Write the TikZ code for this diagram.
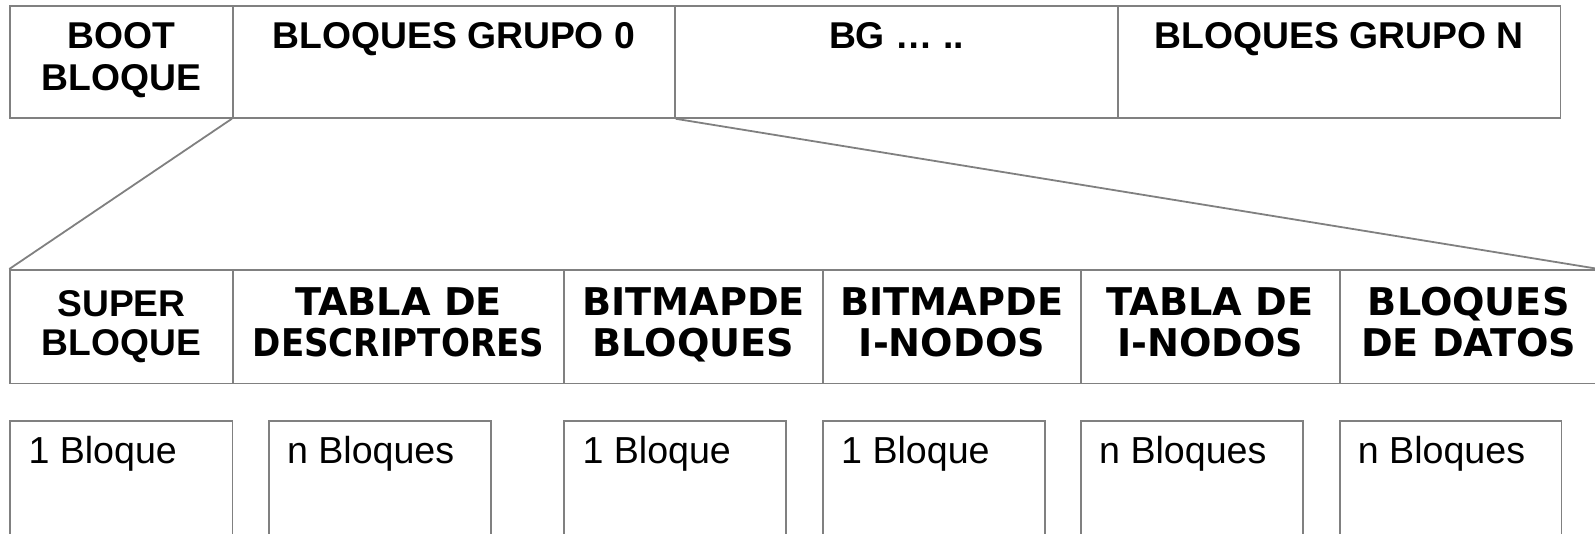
\documentclass[tikz,border=0pt]{standalone}
\usepackage{fontspec}
\setmainfont{Liberation Sans}
\newfontfamily\dejavu{DejaVu Sans}
\usetikzlibrary{calc}
\definecolor{linegray}{RGB}{128,128,128}
\tikzset{
  cell/.style={draw=linegray, line width=1.8pt, rectangle, inner sep=0pt, anchor=north west},
  head/.style={anchor=base, align=center, inner sep=0pt,
    font=\bfseries\fontsize{37.3pt}{42.4pt}\selectfont},
  part/.style={anchor=base, align=center, inner sep=0pt,
    font=\dejavu\bfseries\fontsize{38.2pt}{41.5pt}\selectfont},
  count/.style={anchor=base west, inner sep=0pt,
    font=\fontsize{37.6pt}{42pt}\selectfont},
  link/.style={draw=linegray, line width=1.8pt},
}
\begin{document}
\begin{tikzpicture}[x=1pt, y=-1pt]
\useasboundingbox (0,0) rectangle (1595,533);

% disk layout: boot block and block groups
\node[cell, minimum width=222.5pt, minimum height=112pt] (t1) at (9.3,5) {};
\node[cell, minimum width=442.2pt, minimum height=112pt] (t2) at (231.8,5) {};
\node[cell, minimum width=443pt,   minimum height=112pt] (t3) at (674,5) {};
\node[cell, minimum width=442.5pt, minimum height=112pt] (t4) at (1117,5) {};

% a two-line node sits on the baseline of its last line
\node[head] (t1txt) at ($(t1.north)+(0,85.7)$) {BOOT\\BLOQUE};
\node[head] (t2txt) at ($(t2.north)+(0,43.3)$) {BLOQUES GRUPO 0};
\node[head] (t3txt) at ($(t3.north)+(0,43.3)$) {BG … ..};
\node[head] (t4txt) at ($(t4.north)+(0,43.3)$) {BLOQUES GRUPO N};

% contents of one block group
\node[cell, minimum width=222.5pt, minimum height=113.5pt] (m1) at (9.3,269) {};
\node[cell, minimum width=331.5pt, minimum height=113.5pt] (m2) at (231.8,269) {};
\node[cell, minimum width=258.7pt, minimum height=113.5pt] (m3) at (563.3,269) {};
\node[cell, minimum width=258pt,   minimum height=113.5pt] (m4) at (822,269) {};
\node[cell, minimum width=258.7pt, minimum height=113.5pt] (m5) at (1080,269) {};
\node[cell, minimum width=258.3pt, minimum height=113.5pt] (m6) at (1338.7,269) {};

\node[head, font=\bfseries\fontsize{37.2pt}{39pt}\selectfont] (m1txt) at ($(m1.north)+(0,86)$) {SUPER\\BLOQUE};
\node[part] (m2txt) at ($(m2.north)+(0,87.5)$) {TABLA DE\\\scalebox{0.892}[1]{DESCRIPTORES}};
\node[part] (m3txt) at ($(m3.north)+(0,87.5)$) {BITMAPDE\\BLOQUES};
\node[part] (m4txt) at ($(m4.north)+(0,87.5)$) {BITMAPDE\\I-NODOS};
\node[part] (m5txt) at ($(m5.north)+(0,87.5)$) {TABLA DE\\I-NODOS};
\node[part] (m6txt) at ($(m6.north)+(0,87.5)$) {BLOQUES\\DE DATOS};

% zoom lines from group 0 to its contents
\draw[link] (t2.south west) -- (m1.north west);
\draw[link] (t2.south east) -- (m6.north east);

% size of each part
\node[cell, minimum width=222.2pt, minimum height=125pt] (b1) at (9.3,420) {};
\node[cell, minimum width=222.4pt, minimum height=125pt] (b2) at (267.8,420) {};
\node[cell, minimum width=222.1pt, minimum height=125pt] (b3) at (563.3,420) {};
\node[cell, minimum width=222pt,   minimum height=125pt] (b4) at (822,420) {};
\node[cell, minimum width=222pt,   minimum height=125pt] (b5) at (1080,420) {};
\node[cell, minimum width=221.8pt, minimum height=125pt] (b6) at (1338.7,420) {};

\node[count] (b1txt) at ($(b1.north west)+(19,43.3)$) {1 Bloque};
\node[count] (b2txt) at ($(b2.north west)+(19,43.3)$) {n Bloques};
\node[count] (b3txt) at ($(b3.north west)+(19,43.3)$) {1 Bloque};
\node[count] (b4txt) at ($(b4.north west)+(19,43.3)$) {1 Bloque};
\node[count] (b5txt) at ($(b5.north west)+(19,43.3)$) {n Bloques};
\node[count] (b6txt) at ($(b6.north west)+(19,43.3)$) {n Bloques};
\end{tikzpicture}
\end{document}
